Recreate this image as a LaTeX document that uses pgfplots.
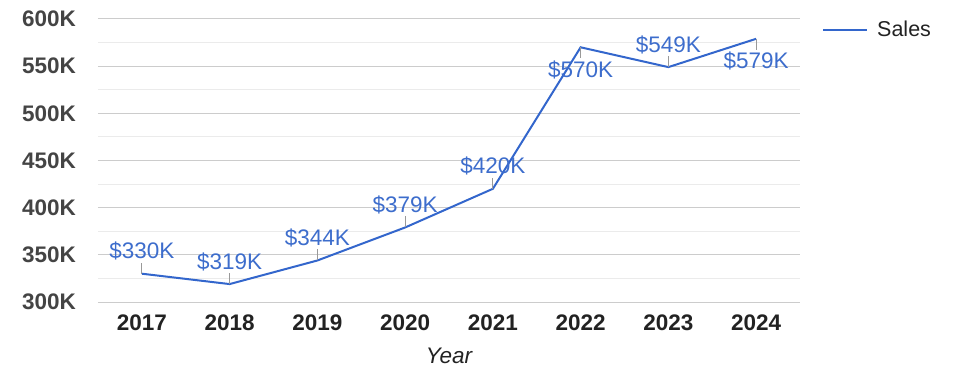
\documentclass[border=0pt]{standalone}
\usepackage{fontspec}
\setmainfont{Liberation Sans}
\usepackage{pgfplots}
\pgfplotsset{compat=1.18}
\definecolor{sales}{HTML}{3366CC}
\definecolor{lbl}{HTML}{3D6DCC}
\definecolor{gridA}{HTML}{CCCCCC}
\definecolor{gridB}{HTML}{EBEBEB}
\definecolor{ytk}{HTML}{444444}
\definecolor{xtk}{HTML}{222222}
\definecolor{lead}{HTML}{999999}
\begin{document}
\begin{tikzpicture}
\useasboundingbox (-98pt,-76pt) rectangle (877pt,302pt);
\begin{axis}[
  at={(0,0)}, anchor=south west,
  scale only axis, width=702pt, height=283pt,
  xmin=-0.5, xmax=7.5, ymin=300, ymax=600,
  axis line style={draw=none}, tick style={draw=none},
  major tick length=0pt, minor tick length=0pt,
  xtick={0,1,2,3,4,5,6,7},
  xticklabels={2017,2018,2019,2020,2021,2022,2023,2024},
  ytick={300,350,400,450,500,550,600},
  minor ytick={325,375,425,475,525,575},
  ymajorgrids, yminorgrids,
  major grid style={gridA, line width=1pt},
  minor grid style={gridB, line width=1pt},
  yticklabel={\pgfmathprintnumber{\tick}K},
  /pgf/number format/assume math mode=true,
  ticklabel style={font=\fontsize{22.5}{26}\selectfont\bfseries},
  yticklabel style={ytk, anchor=east, inner sep=0pt, xshift=-22pt},
  xticklabel style={xtk, anchor=north, inner sep=0pt, yshift=-13pt},
  xlabel={Year},
  xlabel style={font=\fontsize{22.5}{26}\selectfont\itshape, xtk, at={(axis description cs:0.5,0)}, anchor=center, inner sep=0pt, yshift=-54pt},
  legend style={at={(rel axis cs:1,1)}, anchor=north west, xshift=22pt, yshift=-2pt, draw=none, fill=none, inner sep=0pt, font=\fontsize{21.5}{25}\selectfont, text=xtk, nodes={inner sep=0pt}, /tikz/every odd column/.append style={column sep=9pt}},
  legend image code/.code={\draw[#1] (0pt,0pt) -- (44pt,0pt);},
  clip=false,
]
\addplot[sales, line width=2pt] coordinates {(0,330)(1,319)(2,344)(3,379)(4,420)(5,570)(6,549)(7,579)};
\addlegendentry{Sales}
\addplot[forget plot, draw=none, mark=none, point meta=explicit symbolic,
  nodes near coords={\$\pgfplotspointmeta K},
  every node near coord/.append style={lbl, font=\fontsize{22.5}{26}\selectfont, anchor=base, yshift=15pt, inner sep=0pt},
  error bars/.cd, y dir=plus, y explicit, error bar style={draw=lead, line width=0.9pt}, error mark=none]
  table[x=x, y=y, y error=e, meta=m] {
x y e m
0 330 11.7 330
1 319 11.7 319
2 344 11.7 344
3 379 11.7 379
4 420 11.7 420
6 549 11.7 549
};
\addplot[forget plot, draw=none, mark=none, point meta=explicit symbolic,
  nodes near coords={\$\pgfplotspointmeta K},
  every node near coord/.append style={lbl, font=\fontsize{22.5}{26}\selectfont, anchor=base, yshift=-30pt, inner sep=0pt},
  error bars/.cd, y dir=minus, y explicit, error bar style={draw=lead, line width=0.9pt}, error mark=none]
  table[x=x, y=y, y error=e, meta=m] {
x y e m
5 570 11.7 570
7 579 11.7 579
};
\end{axis}
\end{tikzpicture}
\end{document}
